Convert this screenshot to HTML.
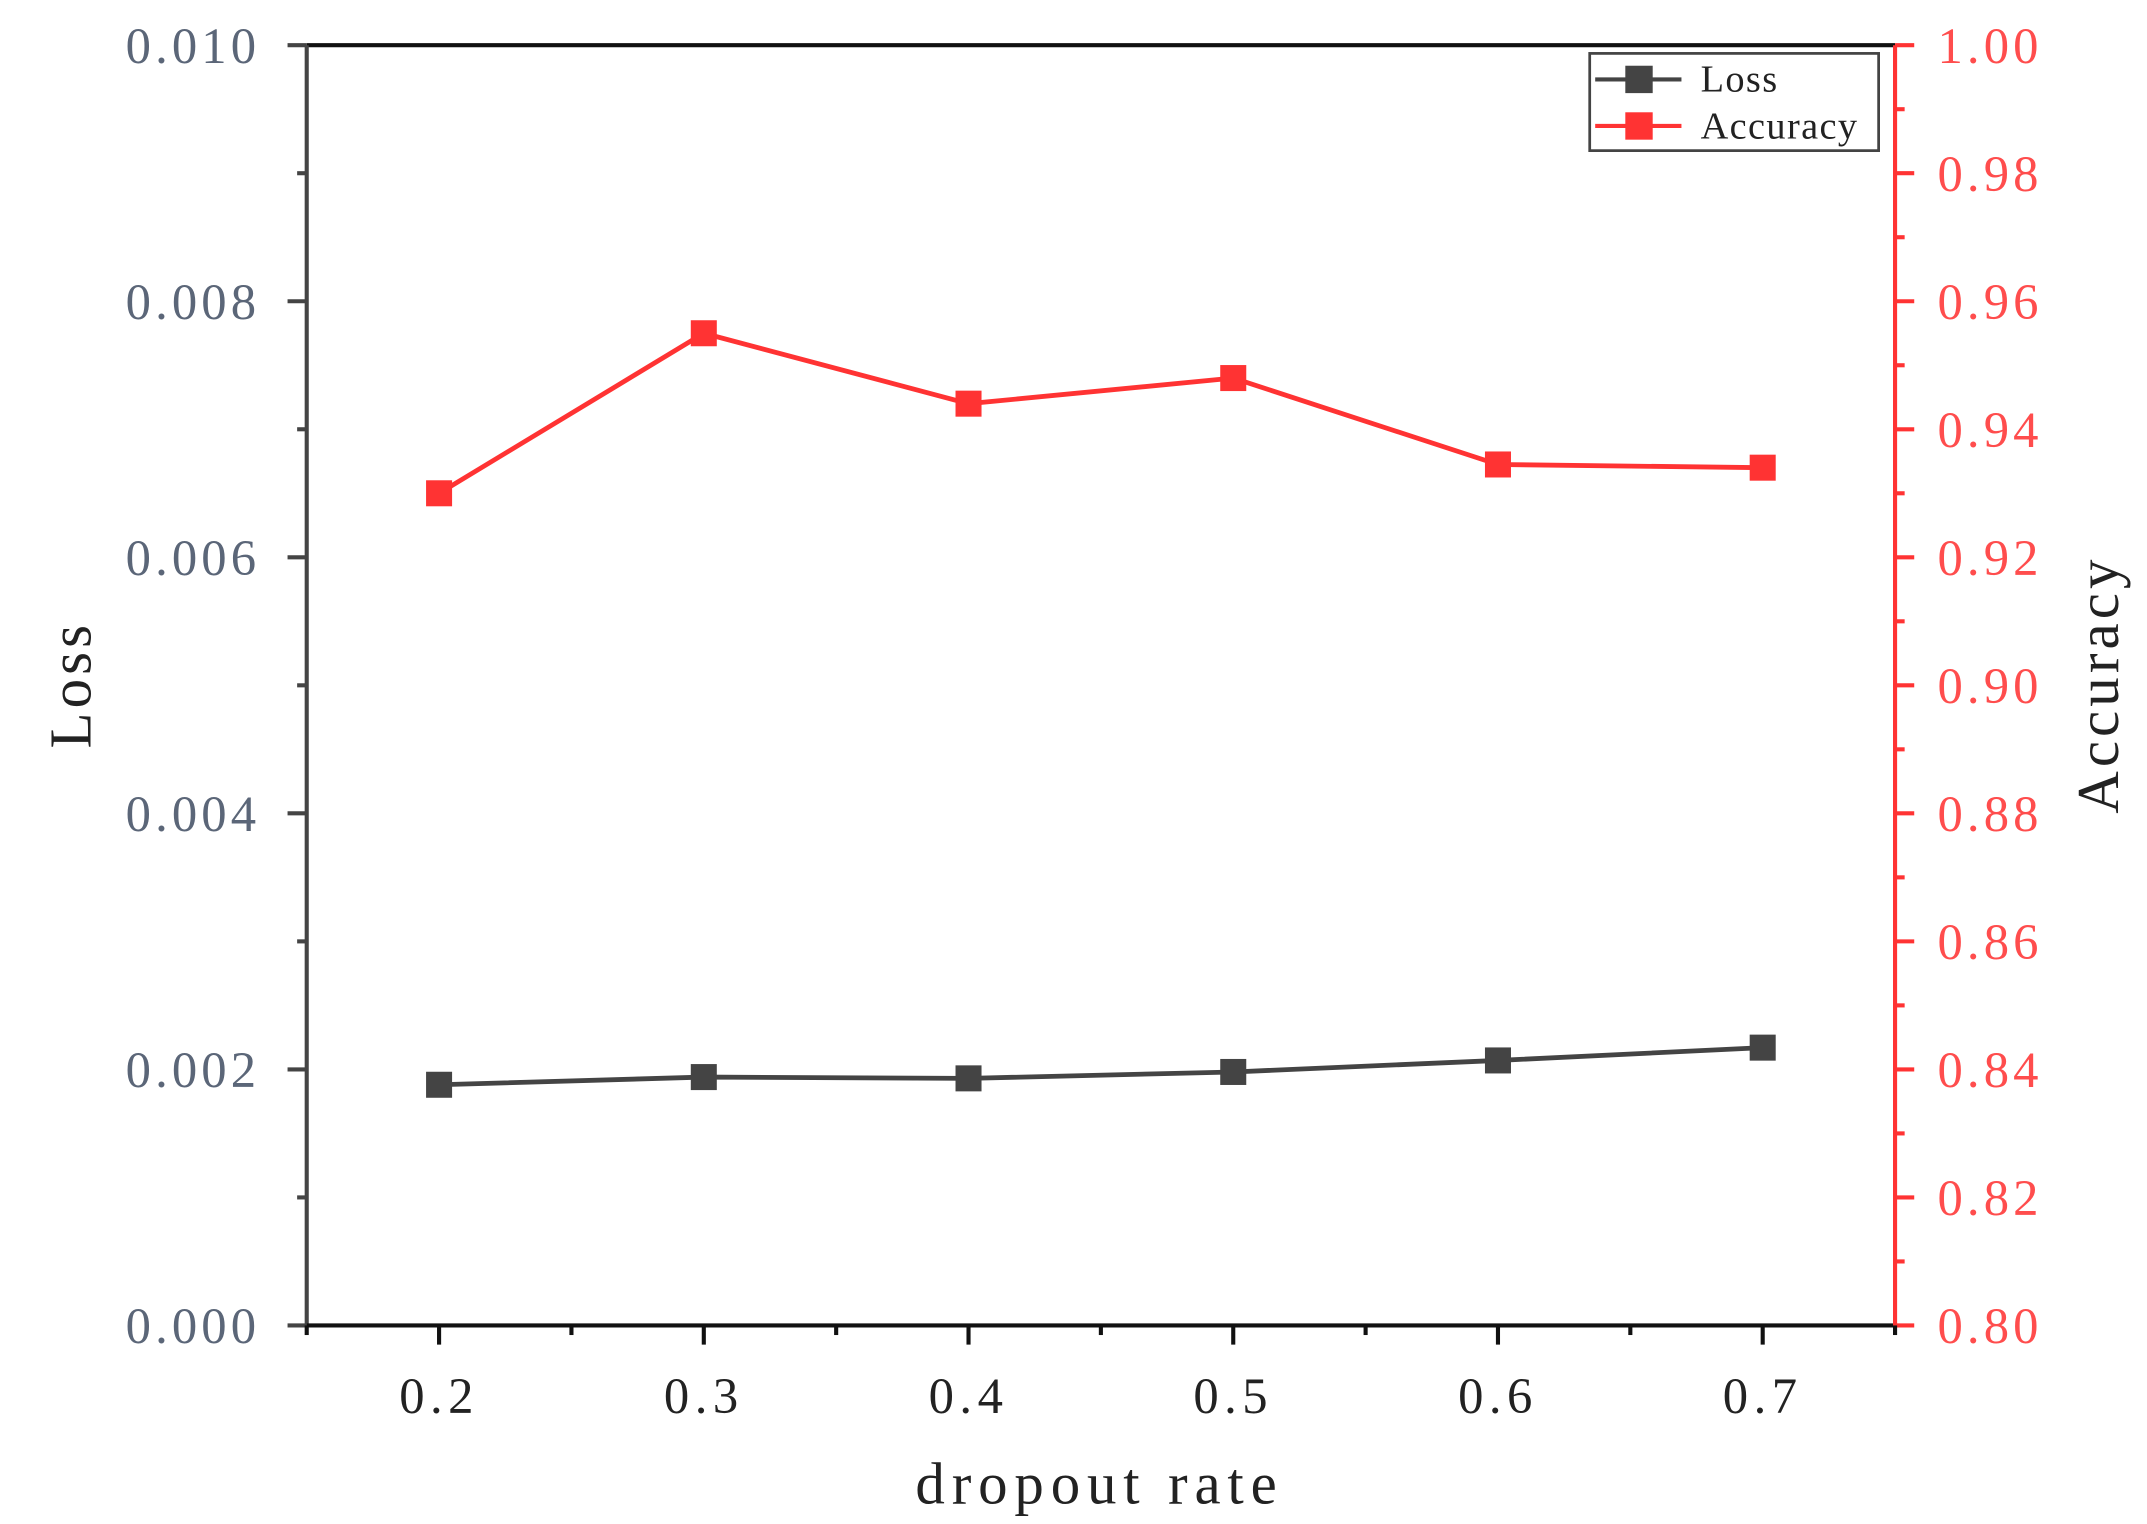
<!DOCTYPE html>
<html><head><meta charset="utf-8">
<style>
html,body{margin:0;padding:0;background:#fff;}
svg{display:block;font-family:"Liberation Serif","Noto Serif CJK SC",serif;}
</style></head>
<body>
<svg id="chart" width="2147" height="1524" viewBox="0 0 1568 1113" xmlns="http://www.w3.org/2000/svg">
<g id="axes"></g>
<g id="series"></g>
<g id="legend">
  <rect x="1161" y="39" width="211" height="71" fill="#fff" stroke="#444" stroke-width="2"/>
  <g>
    <line x1="1165" y1="58" x2="1228" y2="58" stroke="#444" stroke-width="3"/>
    <rect x="1187" y="48" width="20" height="20" fill="#444"/>
    <text x="1242" y="67" font-size="28" fill="#222" letter-spacing="1">Loss</text>
  </g>
  <g>
    <line x1="1165" y1="92" x2="1228" y2="92" stroke="#f33" stroke-width="3"/>
    <rect x="1187" y="82" width="20" height="20" fill="#f33"/>
    <text x="1242" y="101" font-size="28" fill="#222" letter-spacing="1">Accuracy</text>
  </g>
</g>
<text transform="translate(66,500) rotate(-90)" text-anchor="middle" font-size="43" fill="#222" letter-spacing="3">Loss</text>
<text transform="translate(1547,500) rotate(-90)" text-anchor="middle" font-size="43" fill="#222" letter-spacing="3">Accuracy</text>
<text x="803" y="1098" text-anchor="middle" font-size="43" fill="#222" letter-spacing="5">dropout rate</text>
</svg>
<script>
const categories = [0.2, 0.3, 0.4, 0.5, 0.6, 0.7];
const lossValues = [0.00188, 0.00194, 0.00193, 0.00198, 0.00207, 0.00217];
const accuracyValues = [0.930, 0.955, 0.944, 0.948, 0.9345, 0.934];
const xTickLabels = ["0.2","0.3","0.4","0.5","0.6","0.7"];
const lossTickLabels = ["0.000","0.002","0.004","0.006","0.008","0.010"];
const accTickLabels = ["0.80","0.82","0.84","0.86","0.88","0.90","0.92","0.94","0.96","0.98","1.00"];

const L=224,R=1384,T=33,B=968;
const X0=0.15,X1=0.75;
const xs=v=>L+(v-X0)/(X1-X0)*(R-L);
const yLoss=v=>B-(v/0.010)*(B-T);
const yAcc=v=>B-((v-0.80)/0.20)*(B-T);
const NS="http://www.w3.org/2000/svg";
function mk(tag,attrs,parent){const e=document.createElementNS(NS,tag);for(const k in attrs)e.setAttribute(k,attrs[k]);parent.appendChild(e);return e;}
const axes=document.getElementById('axes');
const series=document.getElementById('series');

let e;
e=mk('line',{x1:L,y1:T,x2:R,y2:T,stroke:'#111','stroke-width':3},axes);


e=mk('line',{x1:L,y1:T,x2:L,y2:B,stroke:'#444','stroke-width':3},axes);


e=mk('line',{x1:L,y1:B,x2:R,y2:B,stroke:'#111','stroke-width':3},axes);


e=mk('line',{x1:R,y1:T,x2:R,y2:B,stroke:'#f33','stroke-width':3},axes);



for(let i=0;i<=10;i++){
  const v=i*0.001, y=yLoss(v), major=i%2===0;
  e=mk('line',{x1:L-(major?14:7),y1:y,x2:L,y2:y,stroke:'#444','stroke-width':3},axes);
  
  
}
lossTickLabels.forEach((t,i)=>{
  const y=yLoss(parseFloat(t));
  e=mk('text',{x:190,y:y+13,'text-anchor':'end','font-size':37,fill:'#5b6678','letter-spacing':'3'},axes);
  e.textContent=t;
  
  
});
for(let i=0;i<=20;i++){
  const v=0.80+i*0.01, y=yAcc(v), major=i%2===0;
  e=mk('line',{x1:R,y1:y,x2:R+(major?14:7),y2:y,stroke:'#f33','stroke-width':3},axes);
  
  
}
accTickLabels.forEach(t=>{
  const y=yAcc(parseFloat(t));
  e=mk('text',{x:1415,y:y+13,'font-size':37,fill:'#ff4d4d','letter-spacing':'3'},axes);
  e.textContent=t;
  
  
});
for(let i=0;i<=12;i++){
  const v=X0+i*0.05, x=xs(v), major=(i%2===1);
  e=mk('line',{x1:x,y1:B,x2:x,y2:B+(major?14:7),stroke:'#111','stroke-width':3},axes);
  
  
}
xTickLabels.forEach(t=>{
  const x=xs(parseFloat(t));
  e=mk('text',{x:x,y:1032,'text-anchor':'middle','font-size':37,fill:'#222','letter-spacing':'4'},axes);
  e.textContent=t;
  
  
});

function drawSeries(vals,yf,color,name){
  const pts=categories.map((c,i)=>xs(c)+','+yf(vals[i])).join(' ');
  e=mk('polyline',{points:pts,fill:'none',stroke:color,'stroke-width':3.5},series);
  
  
  categories.forEach((c,i)=>{
    e=mk('rect',{x:xs(c)-9.5,y:yf(vals[i])-9.5,width:19,height:19,fill:color},series);
    
    
  });
}
drawSeries(accuracyValues,yAcc,'#f33','accuracy');
drawSeries(lossValues,yLoss,'#444','loss');
</script>
</body></html>
